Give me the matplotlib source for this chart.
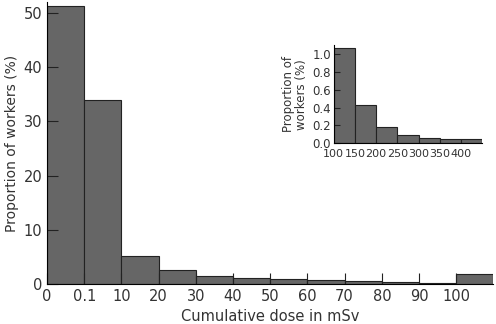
import numpy as np
import matplotlib
matplotlib.use("Agg")
import matplotlib.pyplot as plt

# main histogram (cumulative dose bins, mSv)
bin_labels = ["0", "0.1", "10", "20", "30", "40", "50", "60", "70", "80", "90", "100"]
proportion = [51.2, 33.9, 5.15, 2.6, 1.53, 1.1, 0.92, 0.74, 0.55, 0.37, 0.24, 1.84]

# inset: doses above 100 mSv
inset_labels = ["100", "150", "200", "250", "300", "350", "400"]
inset_prop = [1.07, 0.43, 0.18, 0.09, 0.063, 0.052, 0.045]

bar_color = "#666666"
plt.rcParams["font.family"] = "DejaVu Sans"

fig = plt.figure(figsize=(4.96, 3.24), dpi=100)

ax = fig.add_axes([0.0948, 0.1235, 0.9, 0.870])
x = np.arange(len(proportion))
ax.bar(x, proportion, width=1.0, align="edge", color=bar_color,
       edgecolor="#222222", linewidth=0.8)
ax.set_xlim(0, len(proportion))
ax.set_ylim(0, 52)
ax.set_xticks(x)
ax.set_xticklabels(bin_labels)
ax.set_yticks([0, 10, 20, 30, 40, 50])
ax.tick_params(direction="in", length=8, width=0.8, labelsize=10.5,
               colors="#222222", labelcolor="#333333")
ax.spines["top"].set_visible(False)
ax.spines["right"].set_visible(False)
ax.set_xlabel("Cumulative dose in mSv", fontsize=10.5, color="#333333")
ax.set_ylabel("Proportion of workers (%)", fontsize=10, color="#333333", labelpad=3)

# inset
ins = fig.add_axes([0.6728, 0.5577, 0.2996, 0.3034])
xi = np.arange(len(inset_prop))
ins.bar(xi, inset_prop, width=1.0, align="edge", color=bar_color,
        edgecolor="#222222", linewidth=0.8)
ins.set_xlim(0, len(inset_prop))
ins.set_ylim(0, 1.1)
ins.set_xticks(xi)
ins.set_xticklabels(inset_labels, family=["Liberation Sans Narrow", "DejaVu Sans"],
                    fontsize=8)
ins.set_yticks([0, 0.2, 0.4, 0.6, 0.8, 1.0])
ins.set_yticklabels(["0.0", "0.2", "0.4", "0.6", "0.8", "1.0"])
ins.tick_params(axis="y", direction="in", length=4, width=0.8, labelsize=8.5,
                colors="#222222", labelcolor="#333333", pad=2)
ins.tick_params(axis="x", direction="in", length=0, labelcolor="#333333", pad=4)
ins.spines["top"].set_visible(False)
ins.spines["right"].set_visible(False)
ins.set_ylabel("Proportion of\nworkers (%)", fontsize=8.5, color="#333333",
               linespacing=1.0, labelpad=3)

fig.savefig("out.png", dpi=100)
